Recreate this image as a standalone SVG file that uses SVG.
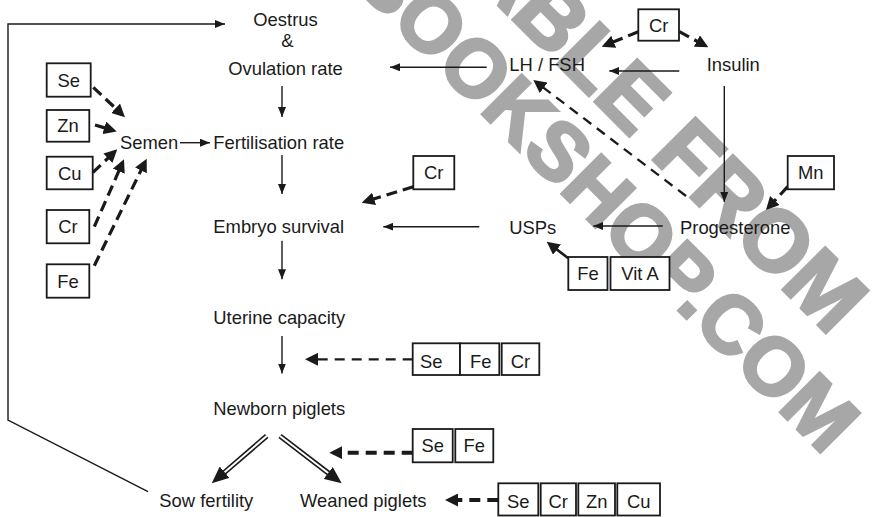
<svg xmlns="http://www.w3.org/2000/svg" width="872" height="517" viewBox="0 0 872 517">
<style>
.t{font-family:"Liberation Sans",Arial,sans-serif;font-size:18.4px;fill:#1a1a1a}
.m{text-anchor:middle}
.bx{fill:#fff;stroke:#1a1a1a;stroke-width:1.8}
.ln{stroke:#1a1a1a;stroke-width:1.4;fill:none}
.dk{stroke:#1a1a1a;stroke-width:3.2;fill:none;stroke-dasharray:11 6}
.dt{stroke:#1a1a1a;stroke-width:2.3;fill:none;stroke-dasharray:10 7}
.db{stroke:#1a1a1a;stroke-width:4;fill:none;stroke-dasharray:11 7}
.so{stroke:#1a1a1a;stroke-width:2.6;fill:none}
.wm{font-family:"Liberation Sans",Arial,sans-serif;font-weight:bold;fill:#a7a7a7;stroke:#a7a7a7;stroke-width:3}
</style>
<defs>
<marker id="ah" markerUnits="userSpaceOnUse" markerWidth="10" markerHeight="8" refX="10" refY="4" orient="auto"><path d="M0,0L10,4L0,8z" fill="#1a1a1a"/></marker>
<marker id="dh" markerUnits="userSpaceOnUse" markerWidth="13" markerHeight="13" refX="9" refY="6.5" orient="auto"><path d="M0,0L13,6.5L0,13z" fill="#1a1a1a"/></marker>
<marker id="wh" markerUnits="userSpaceOnUse" markerWidth="17" markerHeight="15" refX="9" refY="7.5" orient="auto"><path d="M0,0L17,7.5L0,15z" fill="#1a1a1a"/></marker>
</defs>
<rect width="872" height="517" fill="#fff"/>
<g id="watermark">
<text class="wm" font-size="87" transform="translate(289,-204) rotate(45)">AVAILABLE FROM</text>
<text class="wm" font-size="81" transform="translate(348,-20) rotate(45)">BOOKSHOP.COM</text>
</g>
<g id="connectors">
<polyline class="ln" points="148,491.7 8,420 8,24 225,24" marker-end="url(#ah)"/>
<line class="ln" x1="486.7" y1="67.3" x2="390" y2="67.3" marker-end="url(#ah)"/>
<line class="ln" x1="679.3" y1="71" x2="609.3" y2="71" marker-end="url(#ah)"/>
<line class="ln" x1="724.3" y1="86" x2="724.3" y2="202" marker-end="url(#ah)"/>
<line class="ln" x1="662.7" y1="226" x2="593.3" y2="226" marker-end="url(#ah)"/>
<line class="ln" x1="479.3" y1="226.7" x2="383.3" y2="226.7" marker-end="url(#ah)"/>
<line class="ln" x1="180" y1="142.7" x2="210" y2="142.7" marker-end="url(#ah)"/>
<line class="ln" x1="282" y1="86" x2="282" y2="117" marker-end="url(#ah)"/>
<line class="ln" x1="282" y1="155" x2="282" y2="194" marker-end="url(#ah)"/>
<line class="ln" x1="282" y1="240.7" x2="282" y2="279.3" marker-end="url(#ah)"/>
<line class="ln" x1="282" y1="336" x2="282" y2="373.5" marker-end="url(#ah)"/>
<line class="dk" x1="93.3" y1="87.3" x2="122.1" y2="114.5" marker-end="url(#dh)"/>
<line class="dk" x1="95" y1="125" x2="112.9" y2="130.35" marker-end="url(#dh)"/>
<line class="dk" x1="92.7" y1="172.7" x2="114.4" y2="152.06" marker-end="url(#dh)"/>
<line class="dk" x1="94.3" y1="226.7" x2="122.39" y2="162.96" marker-end="url(#dh)"/>
<line class="dk" x1="94.3" y1="265.7" x2="144.94" y2="162.29" marker-end="url(#dh)"/>
<line class="dk" x1="413.3" y1="186.7" x2="365.5" y2="201.5" marker-end="url(#dh)"/>
<line class="dk" x1="638.3" y1="31.7" x2="605.4" y2="45.2" marker-end="url(#dh)"/>
<line class="dk" x1="679.3" y1="31.7" x2="704.8" y2="45.4" marker-end="url(#dh)"/>
<line class="dk" x1="787.7" y1="186.7" x2="768.7" y2="207.1" marker-end="url(#dh)"/>
<line class="dt" x1="686" y1="196" x2="536.5" y2="82.4" marker-end="url(#dh)"/>
<line class="so" x1="568.3" y1="258.3" x2="549.9" y2="244.1" marker-end="url(#dh)"/>
<line class="dt" x1="412.7" y1="359.3" x2="309" y2="359.3" marker-end="url(#dh)"/>
<line class="db" x1="412.7" y1="452.7" x2="333.3" y2="452.7" marker-end="url(#dh)"/>
<line class="db" x1="498.3" y1="500" x2="449" y2="500" marker-end="url(#dh)"/>
<line x1="266.7" y1="436" x2="217.8" y2="478.1" stroke="#1a1a1a" stroke-width="5.2" marker-end="url(#wh)"/>
<line x1="266.7" y1="436" x2="224.6" y2="472.2" stroke="#fff" stroke-width="2"/>
<line x1="280" y1="436" x2="335.35" y2="478.43" stroke="#1a1a1a" stroke-width="5.2" marker-end="url(#wh)"/>
<line x1="280" y1="436" x2="328.2" y2="472.97" stroke="#fff" stroke-width="2"/>
</g>
<g id="oestrus"><text class="t m" x="285.5" y="26">Oestrus</text><text class="t m" x="287.5" y="46.5">&amp;</text><text class="t m" x="285.5" y="75">Ovulation rate</text></g>
<g id="lhfsh"><text class="t" x="509.3" y="71">LH / FSH</text></g>
<g id="insulin"><text class="t" x="706.7" y="71">Insulin</text></g>
<g id="semen"><text class="t" x="120" y="149.3">Semen</text></g>
<g id="fertilisation"><text class="t" x="213.3" y="149.3">Fertilisation rate</text></g>
<g id="embryo"><text class="t" x="213.3" y="233">Embryo survival</text></g>
<g id="usps"><text class="t" x="509.3" y="233.5">USPs</text></g>
<g id="progesterone"><text class="t" x="680" y="233.5">Progesterone</text></g>
<g id="uterine"><text class="t" x="213.3" y="323.5">Uterine capacity</text></g>
<g id="newborn"><text class="t" x="213.3" y="415">Newborn piglets</text></g>
<g id="sow"><text class="t" x="159.3" y="507">Sow fertility</text></g>
<g id="weaned"><text class="t" x="300" y="507">Weaned piglets</text></g>
<g id="box-se-l"><rect class="bx" x="46.7" y="63.3" width="44" height="33.4"/><text class="t m" x="68.7" y="86.5">Se</text></g>
<g id="box-zn-l"><rect class="bx" x="46.7" y="110" width="42.6" height="31.7"/><text class="t m" x="68" y="132.4">Zn</text></g>
<g id="box-cu-l"><rect class="bx" x="46.7" y="156.7" width="46" height="32.6"/><text class="t m" x="69.7" y="179.5">Cu</text></g>
<g id="box-cr-l"><rect class="bx" x="46.7" y="210" width="42.6" height="33.3"/><text class="t m" x="68" y="233.2">Cr</text></g>
<g id="box-fe-l"><rect class="bx" x="46.7" y="264.3" width="42.6" height="33.4"/><text class="t m" x="68" y="287.5">Fe</text></g>
<g id="box-cr-top"><rect class="bx" x="638.3" y="9.3" width="40.7" height="31.4"/><text class="t m" x="658.7" y="31.5">Cr</text></g>
<g id="box-cr-mid"><rect class="bx" x="413.3" y="156" width="41" height="33.3"/><text class="t m" x="433.8" y="179">Cr</text></g>
<g id="box-mn"><rect class="bx" x="787.7" y="156" width="46.3" height="33.3"/><text class="t m" x="810.8" y="179">Mn</text></g>
<g id="box-fe-vita"><rect class="bx" x="568.3" y="257" width="39.2" height="33"/><text class="t m" x="588" y="280">Fe</text><rect class="bx" x="610.5" y="257" width="59" height="33"/><text class="t m" x="640" y="280">Vit A</text></g>
<g id="box-row1"><rect class="bx" x="412.7" y="343.3" width="47.3" height="31.7"/><text class="t" x="420" y="367.5">Se</text><rect class="bx" x="460" y="343.3" width="39.3" height="31.7"/><text class="t m" x="480.7" y="367.5">Fe</text><rect class="bx" x="501.7" y="343.3" width="37.6" height="31.7"/><text class="t m" x="520.5" y="367.5">Cr</text></g>
<g id="box-row2"><rect class="bx" x="412.7" y="429" width="40" height="33.3"/><text class="t m" x="432.7" y="451.5">Se</text><rect class="bx" x="455.3" y="429" width="38" height="33.3"/><text class="t m" x="474.3" y="451.5">Fe</text></g>
<g id="box-row3"><rect class="bx" x="498.3" y="483.3" width="40" height="32.2"/><text class="t m" x="518.3" y="507.5">Se</text><rect class="bx" x="540.7" y="483.3" width="35.3" height="32.2"/><text class="t m" x="558.3" y="507.5">Cr</text><rect class="bx" x="578.3" y="483.3" width="36.7" height="32.2"/><text class="t m" x="596.7" y="507.5">Zn</text><rect class="bx" x="617.3" y="483.3" width="42.7" height="32.2"/><text class="t m" x="638.7" y="507.5">Cu</text></g>
</svg>
